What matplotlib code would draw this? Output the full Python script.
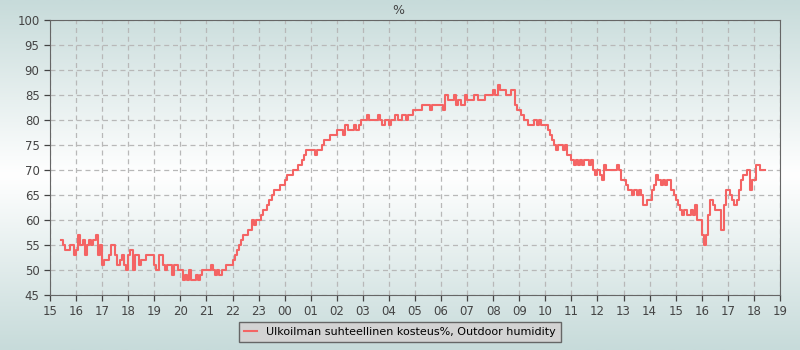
import numpy as np
import matplotlib
matplotlib.use("Agg")
import matplotlib.pyplot as plt
from matplotlib.colors import LinearSegmentedColormap

# ---------------------------------------------------------
# Data: outdoor relative humidity (%), 5-minute readings
# first reading at 15:25, hours counted from 15:00 of day 1
# ---------------------------------------------------------
start_hour = 15 + 25 / 60
step_min = 5

humidity = [
    56, 55, 54, 54, 55, 55, 53,                          # 15:25-
    54, 57, 55, 56, 53, 55, 56, 55, 56, 57, 53, 55,      # 16
    51, 52, 52, 53, 55, 55, 53, 51, 52, 53, 51, 50,      # 17
    53, 54, 50, 53, 53, 51, 52, 52, 53, 53, 53, 53,      # 18
    51, 50, 53, 53, 51, 50, 51, 51, 49, 51, 51, 50,      # 19
    50, 48, 49, 48, 50, 48, 48, 49, 48, 49, 50, 50,      # 20
    50, 50, 51, 50, 49, 50, 49, 50, 50, 51, 51, 51,      # 21
    52, 53, 54, 55, 56, 57, 57, 58, 58, 60, 59, 60,      # 22
    60, 61, 62, 62, 63, 64, 65, 66, 66, 66, 67, 67,      # 23
    68, 69, 69, 69, 70, 70, 71, 71, 72, 73, 74, 74,      # 00
    74, 74, 73, 74, 74, 75, 76, 76, 76, 77, 77, 77,      # 01
    78, 78, 78, 77, 79, 78, 78, 78, 79, 78, 79, 80,      # 02
    80, 80, 81, 80, 80, 80, 80, 81, 80, 79, 80, 80,      # 03
    79, 80, 80, 81, 80, 80, 81, 81, 80, 81, 81, 82,      # 04
    82, 82, 82, 83, 83, 83, 83, 82, 83, 83, 83, 83,      # 05
    83, 82, 85, 84, 84, 84, 85, 83, 84, 83, 83, 85,      # 06
    84, 84, 84, 85, 85, 84, 84, 84, 85, 85, 85, 85,      # 07
    86, 85, 87, 86, 86, 86, 85, 85, 86, 86, 83, 82,      # 08
    82, 81, 80, 80, 79, 79, 79, 80, 79, 80, 79, 79,      # 09
    79, 78, 77, 76, 75, 74, 75, 75, 74, 75, 73, 73,      # 10
    72, 71, 72, 71, 72, 71, 72, 72, 71, 72, 70, 69,      # 11
    70, 69, 68, 71, 70, 70, 70, 70, 70, 71, 70, 68,      # 12
    68, 67, 66, 66, 65, 66, 65, 66, 65, 63, 63, 64,      # 13
    64, 66, 67, 69, 68, 67, 68, 67, 68, 68, 66, 65,      # 14
    64, 63, 62, 61, 62, 61, 61, 62, 61, 63, 60, 60,      # 15
    57, 55, 57, 61, 64, 63, 62, 62, 62, 58, 63, 66,      # 16
    66, 65, 64, 63, 64, 66, 68, 69, 69, 70, 66, 68,      # 17
    68, 71, 71, 70, 70, 70,                              # 18
]

hour_labels = ["15", "16", "17", "18", "19", "20", "21", "22", "23",
               "00", "01", "02", "03", "04", "05", "06", "07", "08", "09",
               "10", "11", "12", "13", "14", "15", "16", "17", "18", "19"]

series_label = "Ulkoilman suhteellinen kosteus%, Outdoor humidity"

times = start_hour + np.arange(len(humidity)) * step_min / 60

# ---------------------------------------------------------
# Plot
# ---------------------------------------------------------
fig = plt.figure(figsize=(8, 3.5), dpi=100)

# background gradient (blue-grey edges, white centre)
bg = fig.add_axes([0, 0, 1, 1], zorder=-10)
cmap = LinearSegmentedColormap.from_list(
    "bg", [(0.0, "#c7dbda"), (0.5, "#ffffff"), (1.0, "#c7dbda")])
bg.imshow(np.linspace(0, 1, 256).reshape(-1, 1), aspect="auto", cmap=cmap,
          extent=[0, 1, 0, 1])
bg.set_axis_off()

ax = fig.add_axes([50 / 800, 55 / 350, 730 / 800, 275 / 350])
ax.set_facecolor("none")

ax.step(times, humidity, where="post", color="#f46464", linewidth=1.5,
        label=series_label)

ax.set_xlim(15, 43)
ax.set_ylim(45, 100)
ax.set_xticks(np.arange(15, 44))
ax.set_xticklabels(hour_labels)
ax.set_yticks(np.arange(45, 101, 5))

ax.grid(True, color="#b8b8b8", linestyle=(0, (4, 3)), linewidth=0.9)
ax.set_axisbelow(True)
for s in ax.spines.values():
    s.set_color("#666666")
ax.tick_params(colors="#444444", labelsize=8.5, length=4, width=0.9,
               direction="out")
for lab in ax.get_xticklabels() + ax.get_yticklabels():
    lab.set_color("#444444")

fig.text(398 / 800, 1 - 10 / 350, "%", ha="center", va="center",
         fontsize=9, color="#444444")

leg = fig.legend(loc="center", bbox_to_anchor=(400 / 800, 1 - 332 / 350),
                 fontsize=8, frameon=True, fancybox=False,
                 handlelength=1.2, borderpad=0.45)
leg.get_frame().set_facecolor("#d3d3d3")
leg.get_frame().set_edgecolor("#666666")
leg.get_frame().set_alpha(1)

fig.savefig("out.png", dpi=100)
